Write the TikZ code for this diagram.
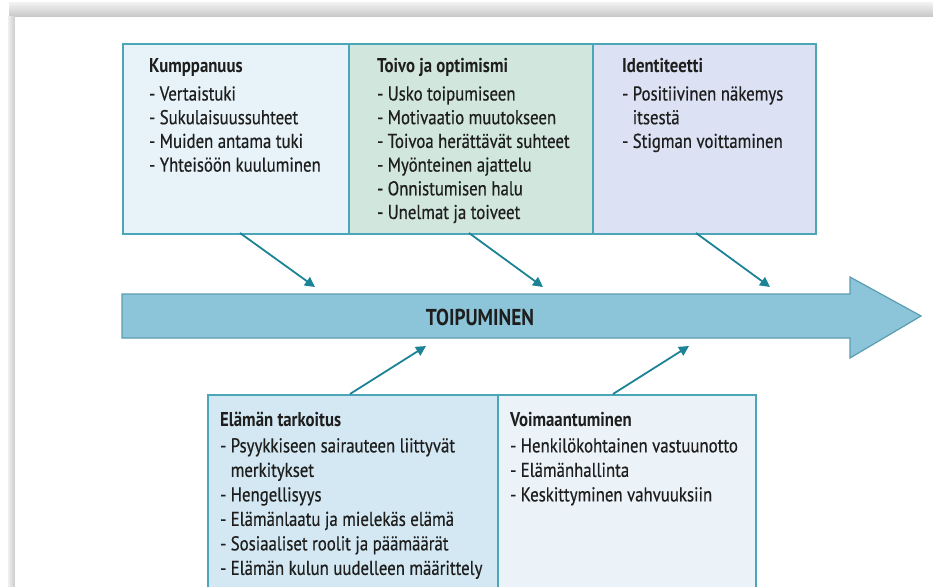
\documentclass[tikz,border=0pt]{standalone}
\usepackage{fontspec}
\setmainfont{PT Sans}[FakeStretch=0.84,UprightFeatures={FakeBold=0.5}]
\usetikzlibrary{arrows.meta}
\definecolor{bordc}{HTML}{4BA6B8}
\definecolor{fillK}{HTML}{E7F3F9}
\definecolor{fillT}{HTML}{D1E6DD}
\definecolor{fillI}{HTML}{DCE2F3}
\definecolor{fillE}{HTML}{D3E8F2}
\definecolor{fillV}{HTML}{ECF3F8}
\definecolor{bandfill}{HTML}{8CC5D9}
\definecolor{bandbord}{HTML}{5B9DB0}
\definecolor{arrc}{HTML}{1C8397}
\definecolor{txt}{HTML}{1E1E1E}
\begin{document}
\begin{tikzpicture}[x=1pt,y=-1pt,
  box/.style={draw=bordc,line width=1.6pt,rectangle,inner sep=0pt},
  txtbox/.style={anchor=north west,inner sep=0pt,align=left,text=txt,
    font=\fontsize{20}{23.7}\selectfont},
  txtboxB/.style={txtbox,font=\fontsize{20}{24.5}\selectfont},
  conn/.style={draw=arrc,line width=1.8pt,-{Triangle[length=10pt,width=10pt]}}]
\useasboundingbox (0,0) rectangle (933,586);
% page with shadow
\shade[top color=gray!12,bottom color=gray!45] (9,3) rectangle (933,17);
\shade[left color=gray!12,right color=gray!40] (8,17) rectangle (15,586);
\fill[white] (15,17) rectangle (933,586);
% top boxes
\node[box,fill=fillK,minimum width=226pt,minimum height=190pt,anchor=north west] (K) at (122,43) {};
\node[box,fill=fillT,minimum width=244pt,minimum height=190pt,anchor=north west] (T) at (348,43) {};
\node[box,fill=fillI,minimum width=223pt,minimum height=190pt,anchor=north west] (I) at (592,43) {};
\node[txtbox] (Kt) at (149,56) {\strut\textbf{Kumppanuus}\\[4pt]- Vertaistuki\\- Sukulaisuussuhteet\\- Muiden antama tuki\\- Yhteisöön kuuluminen};
\node[txtbox] (Tt) at (377,56) {\strut\textbf{Toivo ja optimismi}\\[4pt]- Usko toipumiseen\\- Motivaatio muutokseen\\- Toivoa herättävät suhteet\\- Myönteinen ajattelu\\- Onnistumisen halu\\- Unelmat ja toiveet};
\node[txtbox] (It) at (622,56) {\strut\textbf{Identiteetti}\\[4pt]- Positiivinen näkemys\\\hphantom{- }itsestä\\- Stigman voittaminen};
% band arrow
\path[draw=bandbord,line width=1.2pt,fill=bandfill]
  (122,294) -- (850,294) -- (850,277) -- (921,316) -- (850,358) -- (850,338) -- (122,338) -- cycle;
\node[text=txt,font=\fontsize{23}{25}\selectfont\bfseries] (bandtxt) at (480,317) {TOIPUMINEN};
% bottom boxes
\node[box,fill=fillE,minimum width=290pt,minimum height=200pt,anchor=north west] (E) at (207,394) {};
\node[box,fill=fillV,minimum width=258pt,minimum height=200pt,anchor=north west] (V) at (497,394) {};
\node[txtboxB] (Et) at (220,409) {\strut\textbf{Elämän tarkoitus}\\[1.5pt]- Psyykkiseen sairauteen liittyvät\\\hphantom{- }merkitykset\\- Hengellisyys\\- Elämänlaatu ja mielekäs elämä\\- Sosiaaliset roolit ja päämäärät\\- Elämän kulun uudelleen määrittely};
\node[txtboxB] (Vt) at (510,409) {\strut\textbf{Voimaantuminen}\\[1.5pt]- Henkilökohtainen vastuunotto\\- Elämänhallinta\\- Keskittyminen vahvuuksiin};
% connectors
\coordinate (k1) at (240,233); \coordinate (k2) at (315,287);
\coordinate (t1) at (469,233); \coordinate (t2) at (543,287);
\coordinate (i1) at (696,233); \coordinate (i2) at (770,287);
\coordinate (e1) at (350,394); \coordinate (e2) at (426,346);
\coordinate (v1) at (613,394); \coordinate (v2) at (689,346);
\draw[conn] (k1) -- (k2);
\draw[conn] (t1) -- (t2);
\draw[conn] (i1) -- (i2);
\draw[conn] (e1) -- (e2);
\draw[conn] (v1) -- (v2);
\end{tikzpicture}
\end{document}
